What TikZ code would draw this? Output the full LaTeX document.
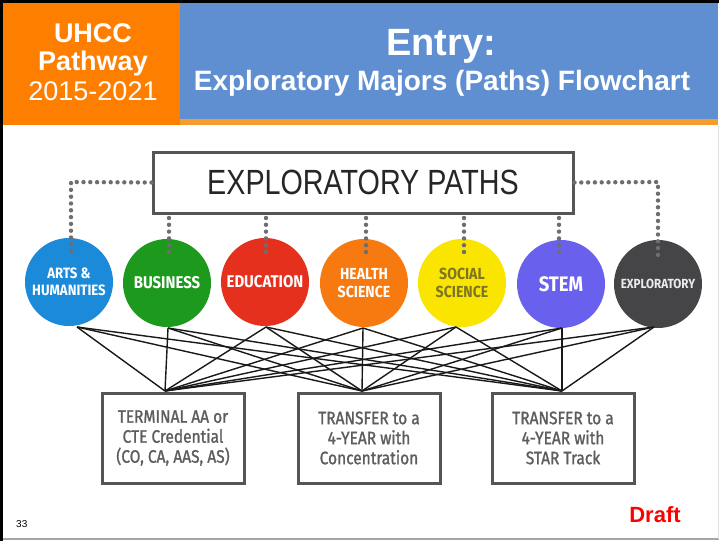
\documentclass[tikz,border=0pt]{standalone}
\usepackage{fontspec}
\setmainfont{Liberation Sans}
\newfontfamily\thinfont[FakeStretch=0.82]{Liberation Sans}
\newfontfamily\circfont[FakeStretch=0.88]{Fira Sans}
\newfontfamily\boxfont[FakeStretch=0.86,FakeBold=1.2]{Fira Sans}
\definecolor{hdrorange}{HTML}{FE7F00}
\definecolor{hdrblue}{HTML}{5F8FD1}
\definecolor{hdrstrip}{HTML}{F59C2C}
\definecolor{cArts}{HTML}{1B8AD8}
\definecolor{cBus}{HTML}{1D9A1D}
\definecolor{cEdu}{HTML}{E4301C}
\definecolor{cHea}{HTML}{F77A10}
\definecolor{cSoc}{HTML}{F9E500}
\definecolor{cStem}{HTML}{6A60EE}
\definecolor{cExp}{HTML}{454548}
\definecolor{socText}{HTML}{7D7526}
\definecolor{boxGray}{HTML}{555555}
\definecolor{boxText}{HTML}{5D5D5D}
\definecolor{dotGray}{HTML}{6E6E6E}
\begin{document}
\begin{tikzpicture}[x=1pt,y=-1pt,
  pathball/.style={circle,minimum size=88pt,inner sep=0pt,align=center,text=white},
  outbox/.style={draw=boxGray,line width=3pt,fill=white,minimum width=142pt,minimum height=90pt,align=center,text=boxText,font=\boxfont\fontsize{18}{20}\selectfont},
  dotline/.style={draw=dotGray,line width=4.4pt,line cap=round,dash pattern=on 0pt off 6.8pt},
  link/.style={draw=black!90,line width=1.4pt},
  hdrtext/.style={text=white,inner sep=0pt,anchor=base}]
\useasboundingbox (0,0) rectangle (719,541);
\fill[white] (0,0) rectangle (719,541);
% header
\fill[hdrorange] (3,3) rectangle (180,125);
\fill[hdrblue] (180,3) rectangle (718,119);
\fill[hdrstrip] (180,119) rectangle (718,125);
\fill[black] (0,0) rectangle (719,3);
\fill[black] (0,0) rectangle (3,541);
\draw[gray!70,line width=1.5pt] (3,539) -- (719,539);
\draw[gray!25,line width=1pt] (718,125) -- (718,539);
\node[hdrtext,font=\bfseries\fontsize{27}{29}\selectfont] (t1) at (93,42) {UHCC};
\node[hdrtext,font=\bfseries\fontsize{27}{29}\selectfont] (t2) at (93,70) {Pathway};
\node[hdrtext,font=\fontsize{27}{29}\selectfont] (t3) at (93,100) {2015-2021};
\node[hdrtext,font=\bfseries\fontsize{38}{40}\selectfont] (t4) at (441,55) {Entry:};
\node[hdrtext,font=\bfseries\fontsize{28}{30}\selectfont] (t5) at (442,90) {Exploratory Majors (Paths) Flowchart};
% main box
\node[draw=boxGray,line width=3pt,fill=white,minimum width=420pt,minimum height=61pt,inner sep=0pt,font=\thinfont\fontsize{35}{35}\selectfont,text=black!85] (ep) at (363,182.5) {EXPLORATORY PATHS};
% coordinates for dotted lines
\coordinate (dl) at (71,182);
\coordinate (dr) at (658,182);
\coordinate (dA) at (71,256);
\coordinate (dB) at (169,256);
\coordinate (dE) at (266,256);
\coordinate (dH) at (366,256);
\coordinate (dS) at (464,256);
\coordinate (dT) at (559,256);
\coordinate (dX) at (658,256);
\coordinate (uB) at (169,218);
\coordinate (uE) at (266,218);
\coordinate (uH) at (366,218);
\coordinate (uS) at (464,218);
\coordinate (uT) at (559,218);
% circles
\node[pathball,fill=cArts,font=\circfont\bfseries\fontsize{15}{17}\selectfont] (arts) at (69,282) {ARTS \&\\HUMANITIES};
\node[pathball,fill=cBus,font=\circfont\bfseries\fontsize{17}{18}\selectfont] (bus) at (167,283) {BUSINESS};
\node[pathball,fill=cEdu,font=\circfont\bfseries\fontsize{17}{18}\selectfont] (edu) at (265,282) {EDUCATION};
\node[pathball,fill=cHea,font=\circfont\bfseries\fontsize{16}{18}\selectfont] (hea) at (364,283) {HEALTH\\SCIENCE};
\node[pathball,fill=cSoc,text=socText,font=\circfont\bfseries\fontsize{16}{18}\selectfont] (soc) at (462,283) {SOCIAL\\SCIENCE};
\node[pathball,fill=cStem,font=\circfont\bfseries\fontsize{21}{22}\selectfont] (stem) at (561,284) {STEM};
\node[pathball,fill=cExp,text=black!8,font=\circfont\bfseries\fontsize{13.2}{14}\selectfont] (exp) at (658,284) {EXPLORATORY};
% dotted connectors
\draw[dotline] (ep.west) -- (dl) -- (dA);
\draw[dotline] (ep.east) -- (dr) -- (dX);
\foreach \u/\d in {uB/dB,uE/dE,uH/dH,uS/dS,uT/dT}{\draw[dotline] (\u) -- (\d);}
% bottom boxes
\node[outbox] (o1) at (173,438) {TERMINAL AA or\\CTE Credential\\(CO, CA, AAS, AS)};
\node[outbox] (o2) at (369,438) {TRANSFER to a\\4-YEAR with\\Concentration};
\node[outbox] (o3) at (563,438) {TRANSFER to a\\4-YEAR with\\STAR Track};
% link points
\coordinate (sA) at (77,327);
\coordinate (sB) at (168,328);
\coordinate (sE) at (266,327);
\coordinate (sH) at (363,328);
\coordinate (sS) at (456,327);
\coordinate (sT) at (562,328);
\coordinate (sX) at (654,327);
\coordinate (c1) at (165,391);
\coordinate (c2) at (362,391);
\coordinate (c3) at (562,391);
\foreach \s in {sA,sB,sE,sH,sS,sT,sX}{
  \foreach \c in {c1,c2,c3}{\draw[link] (\s) -- (\c);}
}
% footer
\node[inner sep=0pt,anchor=base west,font=\fontsize{10}{12}\selectfont] (pg) at (16,527) {33};
\node[inner sep=0pt,anchor=base,text=red,font=\bfseries\fontsize{22}{24}\selectfont] (draft) at (655,522) {Draft};
\end{tikzpicture}
\end{document}
